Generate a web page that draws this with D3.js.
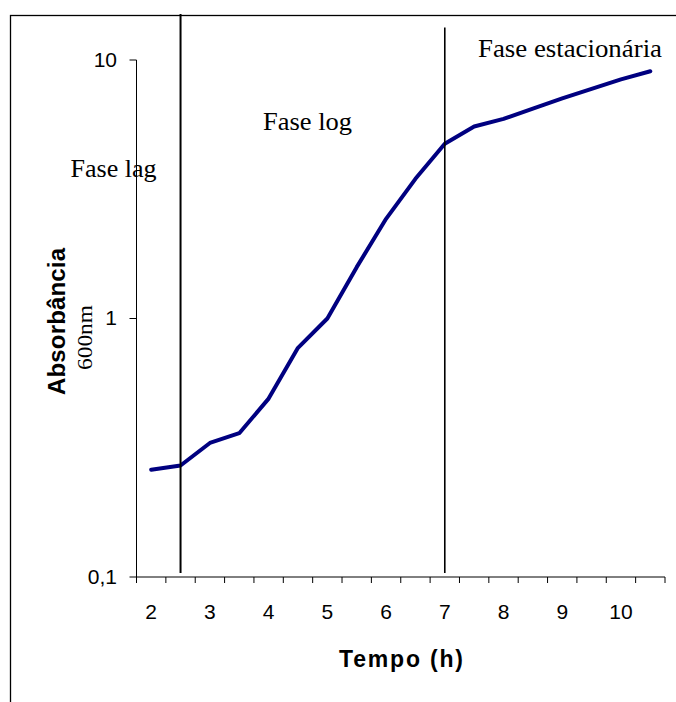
<!DOCTYPE html>
<html>
<head>
<meta charset="utf-8">
<script src="https://cdn.jsdelivr.net/npm/d3@7"></script>
<style>
  body { margin: 0; background: #fff; }
  svg { display: block; }
</style>
</head>
<body>
<svg></svg>
<script>
const width = 676;
const height = 702;

// time (h) and absorbance at 600nm
const tempo = [2, 2.5, 3, 3.5, 4, 4.5, 5, 5.5, 6, 6.5, 7, 7.5, 8, 8.5, 9, 9.5, 10, 10.5];
const absorbancia = [0.26, 0.27, 0.33, 0.36, 0.49, 0.77, 1.0, 1.58, 2.43, 3.47, 4.74, 5.53, 5.92, 6.49, 7.10, 7.73, 8.41, 9.05];

const xLabels = [2, 3, 4, 5, 6, 7, 8, 9, 10];
const yTicks = [0.1, 1, 10];
const yTickLabels = ["0,1", "1", "10"];

// phase boundaries and labels
const fases = [2.5, 7];
const faseTexts = [
  { text: "Fase lag", x: 70.5, y: 177, w: 86 },
  { text: "Fase log", x: 263, y: 129.5, w: 89 },
  { text: "Fase estacionária", x: 478, y: 57, w: 184 }
];

const svg = d3.select("svg")
  .attr("width", width)
  .attr("height", height);

// outer frame (cut off on the right and bottom)
svg.append("rect")
  .attr("x", 10.5)
  .attr("y", 15.5)
  .attr("width", 720)
  .attr("height", 720)
  .attr("fill", "none")
  .attr("stroke", "#000")
  .attr("stroke-width", 1.3);

// category-style axis: each time point sits in the middle of a half-hour slot
const x = d3.scaleLinear()
  .domain([1.75, 10.75])
  .range([136.5, 665]);

const y = d3.scaleLog()
  .domain([0.1, 10])
  .range([577, 60]);

// y axis
const yAxis = svg.append("g");
yAxis.append("line")
  .attr("x1", x(1.75)).attr("x2", x(1.75))
  .attr("y1", y(10)).attr("y2", y(0.1))
  .attr("stroke", "#000").attr("stroke-width", 1);

yAxis.selectAll(".ytick")
  .data(yTicks)
  .enter()
  .append("line")
  .attr("x1", x(1.75) - 7).attr("x2", x(1.75))
  .attr("y1", d => y(d)).attr("y2", d => y(d))
  .attr("stroke", "#000").attr("stroke-width", 1);

yAxis.selectAll(".ylab")
  .data(yTicks)
  .enter()
  .append("text")
  .attr("x", 117)
  .attr("y", d => y(d))
  .attr("dy", "0.33em")
  .attr("text-anchor", "end")
  .attr("font-family", "Liberation Sans, Arial, sans-serif")
  .attr("font-size", 21)
  .text((d, i) => yTickLabels[i]);

// x axis
const xAxis = svg.append("g");
xAxis.append("line")
  .attr("x1", x(1.75)).attr("x2", x(10.75))
  .attr("y1", y(0.1)).attr("y2", y(0.1))
  .attr("stroke", "#000").attr("stroke-width", 1);

// tick marks between categories
xAxis.selectAll(".xtick")
  .data(tempo.map(t => t - 0.25).concat([10.75]))
  .enter()
  .append("line")
  .attr("x1", d => x(d)).attr("x2", d => x(d))
  .attr("y1", y(0.1)).attr("y2", y(0.1) + 6)
  .attr("stroke", "#000").attr("stroke-width", 1);

xAxis.selectAll(".xlab")
  .data(xLabels)
  .enter()
  .append("text")
  .attr("x", d => x(d))
  .attr("y", 612)
  .attr("dy", "0.35em")
  .attr("text-anchor", "middle")
  .attr("font-family", "Liberation Sans, Arial, sans-serif")
  .attr("font-size", 21)
  .text(d => d);

// axis titles
svg.append("text")
  .attr("x", 401)
  .attr("y", 667)
  .attr("text-anchor", "middle")
  .attr("font-family", "Liberation Sans, Arial, sans-serif")
  .attr("font-weight", "bold")
  .attr("font-size", 23)
  .attr("textLength", 124)
  .attr("lengthAdjust", "spacing")
  .text("Tempo (h)");

svg.append("text")
  .attr("transform", "translate(65,321.5) rotate(-90)")
  .attr("text-anchor", "middle")
  .attr("font-family", "Liberation Sans, Arial, sans-serif")
  .attr("font-weight", "bold")
  .attr("font-size", 24)
  .attr("textLength", 147)
  .attr("lengthAdjust", "spacing")
  .text("Absorbância");

svg.append("text")
  .attr("transform", "translate(92,337.5) rotate(-90)")
  .attr("text-anchor", "middle")
  .attr("font-family", "Liberation Serif, Times New Roman, serif")
  .attr("font-size", 22)
  .attr("textLength", 65)
  .attr("lengthAdjust", "spacingAndGlyphs")
  .text("600nm");

// growth curve
const line = d3.line()
  .x((d, i) => x(tempo[i]))
  .y(d => y(d));

svg.append("path")
  .datum(absorbancia)
  .attr("d", line)
  .attr("fill", "none")
  .attr("stroke", "#000080")
  .attr("stroke-width", 4)
  .attr("stroke-linejoin", "round")
  .attr("stroke-linecap", "round");

// phase separators
svg.selectAll(".fase")
  .data(fases)
  .enter()
  .append("line")
  .attr("x1", d => x(d)).attr("x2", d => x(d))
  .attr("y1", (d, i) => i === 0 ? 14 : 27.5)
  .attr("y2", 573)
  .attr("stroke", "#000")
  .attr("stroke-width", (d, i) => i === 0 ? 2 : 1.6);

svg.selectAll(".fasetxt")
  .data(faseTexts)
  .enter()
  .append("text")
  .attr("x", d => d.x)
  .attr("y", d => d.y)
  .attr("font-family", "Liberation Serif, Times New Roman, serif")
  .attr("font-size", 25)
  .attr("textLength", d => d.w)
  .attr("lengthAdjust", "spacingAndGlyphs")
  .text(d => d.text);
</script>
</body>
</html>
